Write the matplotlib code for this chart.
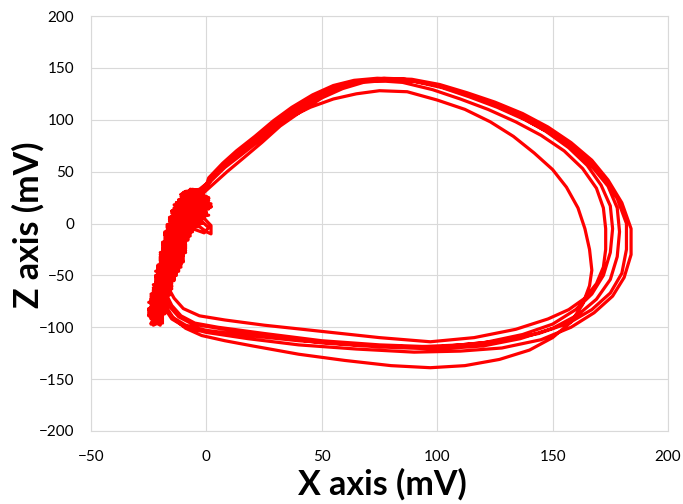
import matplotlib
matplotlib.use("Agg")
import matplotlib.pyplot as plt

# ---- trace, one list of (x, z) per loop (mV) ----
# each loop: upper arc -> right side -> lower arc -> noisy climb back up near x=-15
loop1 = [(-4, 28), (0, 38), (5, 50), (11, 62), (18, 74), (26, 88), (35, 101), (45, 112),
         (55, 120), (65, 125), (75, 128), (87, 127), (100, 119), (112, 110), (123, 98),
         (133, 84), (142, 68), (150, 52), (156, 35), (161, 15), (164, -5), (166, -25),
         (167, -45), (166, -60), (163, -78), (158, -95), (150, -110), (140, -122),
         (127, -131), (112, -137), (97, -139), (80, -137), (60, -132), (40, -126),
         (20, -118), (8, -113), (-2, -108), (-9, -101), (-14, -92), (-17, -82), (-18, -72),
         (-21, -82), (-22, -92),
         (-23, -98), (-19, -94), (-24, -90), (-18, -86), (-25, -82), (-18, -78), (-24, -74),
         (-17, -70), (-23, -66), (-16, -62), (-22, -58), (-14, -54), (-22, -50), (-12, -46),
         (-21, -42), (-11, -38), (-20, -34), (-10, -30), (-19, -26), (-9, -22), (-19, -18),
         (-8, -14), (-18, -10), (-7, -6), (-17, -2), (-3, 2), (-16, 6), (0, 10), (-14, 14),
         (1, 18), (-12, 22), (0, 26), (-10, 30), (-3, 33)]

loop2 = [(-3, 33), (1, 40), (6, 52), (12, 64), (20, 78), (28, 93), (36, 107), (44, 119),
         (53, 129), (62, 135), (72, 138), (85, 136), (98, 129), (110, 120), (122, 110),
         (134, 98), (145, 85), (155, 70), (163, 53), (169, 34), (172, 15), (173, -5),
         (173, -25), (172, -42), (169, -58), (164, -72), (157, -83), (148, -92),
         (134, -102), (116, -110), (97, -114), (75, -110), (50, -104), (25, -98),
         (8, -93), (-3, -89), (-10, -82), (-14, -72), (-16, -64),
         (-20, -78), (-21, -90),
         (-19, -96), (-24, -92), (-19, -88), (-25, -84), (-17, -80), (-25, -76), (-17, -72),
         (-24, -68), (-16, -64), (-22, -60), (-15, -56), (-22, -52), (-13, -48), (-21, -44),
         (-11, -40), (-20, -36), (-10, -32), (-20, -28), (-9, -24), (-19, -20), (-8, -16),
         (-18, -12), (-6, -8), (-17, -4), (-2, 0), (-16, 4), (1, 8), (-15, 12), (2, 16),
         (-13, 20), (1, 24), (-11, 28), (-4, 32), (-2, 30)]

loop3 = [(-2, 30), (2, 42), (8, 56), (14, 68), (22, 82), (30, 97), (39, 111), (48, 123),
         (57, 132), (66, 137), (76, 139), (88, 138), (100, 133), (112, 125), (124, 115),
         (136, 103), (147, 89), (157, 73), (165, 56), (171, 37), (175, 17), (176, -5),
         (175, -28), (172, -50), (167, -68), (160, -83), (150, -97), (137, -107),
         (120, -115), (100, -119), (75, -117), (50, -113), (25, -106), (5, -100),
         (-5, -96), (-11, -89), (-15, -79), (-17, -70),
         (-21, -80), (-22, -90),
         (-24, -97), (-20, -93), (-25, -89), (-18, -85), (-24, -81), (-17, -77), (-24, -73),
         (-16, -69), (-23, -65), (-15, -61), (-22, -57), (-14, -53), (-21, -49), (-12, -45),
         (-21, -41), (-10, -37), (-20, -33), (-10, -29), (-19, -25), (-9, -21), (-18, -17),
         (-8, -13), (-18, -9), (-6, -5), (-17, -1), (-2, 3), (-15, 7), (0, 11), (-14, 15),
         (2, 19), (-12, 23), (-1, 27), (-9, 31), (-1, 30)]

loop4 = [(-1, 30), (3, 38), (9, 50), (16, 63), (24, 78), (32, 94), (41, 108), (50, 121),
         (59, 130), (68, 136), (78, 138), (90, 137), (102, 131), (114, 122), (126, 112),
         (138, 100), (149, 87), (159, 72), (167, 55), (174, 36), (178, 15), (179, -8),
         (178, -32), (175, -54), (169, -73), (161, -88), (150, -101), (136, -111),
         (120, -118), (100, -121), (75, -119), (50, -115), (25, -108), (5, -101),
         (-6, -97), (-12, -90), (-16, -80), (-18, -70),
         (-21, -82), (-22, -92),
         (-20, -95), (-24, -91), (-18, -87), (-25, -83), (-18, -79), (-24, -75), (-17, -71),
         (-23, -67), (-15, -63), (-23, -59), (-14, -55), (-22, -51), (-13, -47), (-21, -43),
         (-11, -39), (-20, -35), (-10, -31), (-19, -27), (-9, -23), (-19, -19), (-8, -15),
         (-18, -11), (-7, -7), (-17, -3), (-3, -3), (0, -8), (2, -10), (2, -2), (-1, 5),
         (-16, 5), (0, 9), (-14, 13), (2, 17), (-12, 21), (1, 25), (-10, 29), (-6, 33),
         (-1, 30)]

loop5 = [(-1, 30), (1, 44), (7, 58), (13, 70), (21, 84), (29, 99), (37, 112), (46, 124),
         (55, 133), (64, 138), (74, 140), (86, 139), (98, 134), (110, 127), (122, 118),
         (134, 107), (145, 95), (155, 81), (164, 65), (172, 46), (178, 24), (182, 0),
         (182, -25), (180, -48), (175, -67), (167, -83), (157, -96), (144, -106),
         (128, -113), (110, -117), (90, -119), (65, -117), (40, -113), (18, -108),
         (0, -103), (-9, -98), (-15, -90), (-18, -80), (-19, -72),
         (-22, -84), (-21, -93),
         (-20, -98), (-23, -94), (-19, -90), (-25, -86), (-18, -82), (-24, -78), (-17, -74),
         (-24, -70), (-16, -66), (-23, -62), (-15, -58), (-22, -54), (-13, -50), (-22, -46),
         (-11, -42), (-20, -38), (-10, -34), (-20, -30), (-9, -26), (-19, -22), (-9, -18),
         (-18, -14), (-7, -10), (-17, -6), (-6, -2), (-16, 2), (-1, 6), (-15, 10), (1, 14),
         (-14, 18), (1, 22), (-11, 26), (-3, 30), (-7, 33), (-2, 30)]

loop6 = [(-2, 30), (2, 41), (8, 54), (15, 66), (23, 80), (31, 95), (40, 109), (49, 121),
         (58, 131), (67, 137), (77, 140), (89, 139), (101, 134), (113, 126), (125, 117),
         (137, 106), (148, 93), (158, 78), (167, 61), (174, 42), (180, 20), (184, -5),
         (184, -30), (181, -52), (176, -70), (168, -86), (158, -100), (145, -112),
         (128, -120), (110, -123), (90, -124), (65, -121), (40, -117), (18, -111),
         (0, -105), (-9, -100), (-15, -92), (-18, -82), (-20, -74),
         (-22, -86), (-22, -94),
         (-24, -96), (-19, -92), (-25, -88), (-18, -84), (-24, -80), (-17, -76), (-24, -72),
         (-16, -68), (-23, -64), (-15, -60), (-22, -56), (-14, -52), (-21, -48), (-12, -44),
         (-21, -40), (-10, -36), (-20, -32), (-9, -28), (-19, -24), (-9, -20), (-18, -16),
         (-7, -12), (-18, -8), (-6, -5), (-1, -9), (1, -4), (-2, 2), (-16, 4), (0, 8),
         (-15, 12), (2, 16), (-13, 20), (1, 24), (-11, 28), (-5, 32), (-2, 30)]

loops = [loop1, loop2, loop3, loop4, loop5, loop6]

x_ticks = [-50, 0, 50, 100, 150, 200]
z_ticks = [-200, -150, -100, -50, 0, 50, 100, 150, 200]

plt.rcParams['font.family'] = ['Lato', 'DejaVu Sans']

fig = plt.figure(figsize=(6.83, 5.04), dpi=100)
ax = fig.add_axes([91 / 683, 73 / 504, 577 / 683, 415 / 504])

xs, zs = [], []
for lp in loops:
    xs += [p[0] for p in lp]
    zs += [p[1] for p in lp]
ax.plot(xs, zs, color='#FF0000', lw=2.3, solid_joinstyle='round', solid_capstyle='round')

ax.set_xlim(-50, 200)
ax.set_ylim(-200, 200)
ax.set_xticks(x_ticks)
ax.set_yticks(z_ticks)
ax.grid(True, color='#D9D9D9', lw=0.8)
ax.set_axisbelow(True)
for s in ax.spines.values():
    s.set_color('#D9D9D9')
    s.set_linewidth(0.8)
ax.tick_params(length=0, labelsize=11, labelcolor='black')
ax.tick_params(axis='y', pad=12)
ax.tick_params(axis='x', pad=14)

fig.text(382 / 683, 9 / 504, "X axis (mV)", ha='center', va='baseline',
         fontsize=24.5, fontweight='bold')
fig.text(28 / 683, 1 - 225 / 504, "Z axis (mV)", ha='center', va='center',
         rotation=90, fontsize=24.5, fontweight='bold')

fig.savefig('out.png', dpi=100)
